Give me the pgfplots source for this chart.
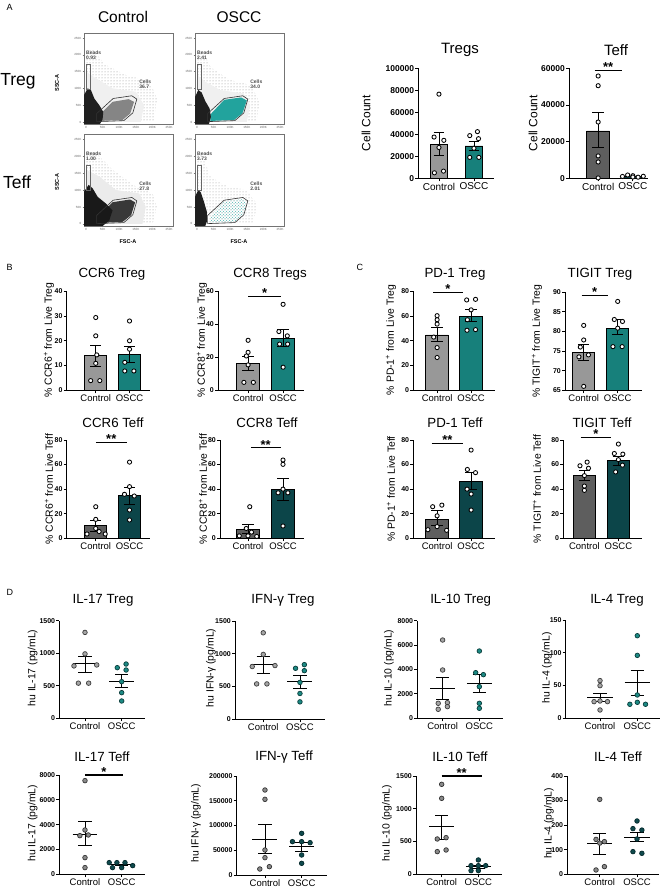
\documentclass[border=0pt]{standalone}
\usepackage{pgfplots}
\pgfplotsset{compat=1.18}
\usepackage{fontspec}
\setmainfont{Liberation Sans}
\usetikzlibrary{patterns}
\definecolor{ctrlTreg}{HTML}{989898}
\definecolor{osccTreg}{HTML}{17807B}
\definecolor{ctrlTeff}{HTML}{5E5E5E}
\definecolor{osccTeff}{HTML}{0C4549}
\definecolor{gateTeal}{HTML}{22A39D}
\definecolor{dCT}{HTML}{A5A5A5}
\definecolor{dCTe}{HTML}{3D3D3D}
\definecolor{dOT}{HTML}{1C8A84}
\definecolor{dOTe}{HTML}{0A3D3B}
\definecolor{dCF}{HTML}{8A8A8A}
\definecolor{dCFe}{HTML}{333333}
\definecolor{dOF}{HTML}{0F4A4D}
\definecolor{dOFe}{HTML}{04292B}
\newcommand{\fs}[1]{\fontsize{#1}{#1}\selectfont}
% bar: xl xm xr base val colour
\newcommand{\rbar}[6]{\addplot[fill=#6, draw=black, line width=0.9pt] coordinates {(#2,#4) (#3,#4) (#3,#5) (#1,#5) (#1,#4) (#2,#4)};}
% error bar: x lo hi capL capR
\newcommand{\eb}[5]{\addplot[black, line width=0.9pt] coordinates {(#1,#2) (#1,#3)};
 \addplot[black, line width=0.9pt] coordinates {(#4,#3) (#5,#3)};
 \addplot[black, line width=0.9pt] coordinates {(#4,#2) (#5,#2)};}
\newcommand{\mline}[3]{\addplot[black, line width=1pt] coordinates {(#1,#3) (#2,#3)};}
\newcommand{\wpts}[1]{\addplot[only marks, mark=*, mark size=2.1pt, mark options={fill=white, draw=black, line width=0.85pt}] coordinates {#1};}
\newcommand{\dpts}[3]{\addplot[only marks, mark=*, mark size=2.3pt, mark options={fill=#1, draw=#2, line width=0.7pt}] coordinates {#3};}
% significance: x1 x2 mid y text
\newcommand{\sig}[5]{\addplot[black, line width=1.1pt] coordinates {(#1,#4) (#2,#4)};
 \node[font=\bfseries\fs{13}, inner sep=0pt, anchor=south] at (axis cs:#3,#4) [yshift=-1.5pt] {#5};}
\pgfplotsset{
 prism/.style={
  scale only axis, clip=false, ymin=0, anchor=south west,
  axis x line*=bottom, axis y line*=left,
  axis line style={line width=0.9pt, black},
  tick style={line width=0.9pt, black},
  tick align=outside, major tick length=3pt,
  xtick={0,1}, xticklabels={Control,OSCC},
  xticklabel style={font=\fs{9.5}, inner sep=1.5pt},
  yticklabel style={font=\bfseries\fs{7}, inner sep=1pt},
  scaled y ticks=false,
  /pgf/number format/fixed, /pgf/number format/1000 sep={},
  /pgf/number format/assume math mode=true,
 },
 flow/.style={
  scale only axis, anchor=south west, width=89pt,
  xmin=-6, xmax=262, ymin=-6, ymax=265,
  axis line style={black!55, line width=0.6pt},
  tick style={black!55, line width=0.4pt},
  tick align=outside, major tick length=1.5pt, tick pos=left,
  xtick={0,50,100,150,200,250}, xticklabels={0,50K,100K,150K,200K,250K},
  ytick={0,50,100,150,200,250}, yticklabels={0,50K,100K,150K,200K,250K},
  tick label style={font=\fs{3}, black!60, inner sep=1pt},
 },
}
\begin{document}
\begin{tikzpicture}
\path[use as bounding box] (0,0) rectangle (663pt,891pt);

% ================= A: flow plots =================
\begin{axis}[flow, at={(84pt,767pt)}, height=91pt]
\addplot[pattern=dots, pattern color=black!45, draw=none] coordinates {(0,0)(0,210)(20,215)(60,170)(120,140)(190,120)(215,70)(205,0)(0,0)};
\addplot[fill=black!6, draw=none] coordinates {(0,0)(0,150)(30,130)(80,100)(150,90)(175,50)(165,0)(0,0)};
\addplot[fill=black!48, draw=none] coordinates {(40,3)(40,20)(80,60)(128,68)(145,60)(133,25)(110,6)(40,3)};
\addplot[fill=black!88, draw=none] coordinates {(-6,-6)(-6,80)(5,100)(15,95)(25,70)(40,50)(52,30)(50,8)(42,-6)(-6,-6)};
\addplot[draw=black!80, line width=0.6pt] coordinates {(32,1)(32,25)(82,70)(138,78)(153,68)(141,27)(114,4)(32,1)};
\addplot[draw=black!60, line width=0.5pt] coordinates {(1,98)(12,98)(12,172)(1,172)(1,98)};
\node[anchor=west, font=\bfseries\fs{5}, black!70, align=left, inner sep=0pt] at (axis cs:0,200) {Beads\\0.93};
\node[anchor=west, font=\bfseries\fs{5}, black!70, align=left, inner sep=0pt] at (axis cs:160,112) {Cells\\36.7};
\end{axis}
\begin{axis}[flow, at={(195pt,767pt)}, height=91pt]
\addplot[pattern=dots, pattern color=black!45, draw=none] coordinates {(0,0)(0,215)(15,210)(45,160)(100,125)(160,110)(190,60)(180,0)(0,0)};
\addplot[fill=black!6, draw=none] coordinates {(0,0)(0,140)(25,120)(70,95)(140,85)(160,50)(150,0)(0,0)};
\addplot[fill=gateTeal, draw=none] coordinates {(40,3)(40,22)(82,66)(133,73)(150,64)(137,26)(112,6)(40,3)};
\addplot[fill=black!88, draw=none] coordinates {(-6,-6)(-6,75)(4,95)(14,88)(25,62)(38,40)(42,15)(36,-6)(-6,-6)};
\addplot[draw=black!80, line width=0.6pt] coordinates {(32,1)(32,25)(82,70)(138,78)(153,68)(141,27)(114,4)(32,1)};
\addplot[draw=black!60, line width=0.5pt] coordinates {(1,98)(12,98)(12,172)(1,172)(1,98)};
\node[anchor=west, font=\bfseries\fs{5}, black!70, align=left, inner sep=0pt] at (axis cs:0,200) {Beads\\2.41};
\node[anchor=west, font=\bfseries\fs{5}, black!70, align=left, inner sep=0pt] at (axis cs:160,112) {Cells\\34.0};
\end{axis}
\begin{axis}[flow, at={(84pt,665pt)}, height=92pt]
\addplot[pattern=dots, pattern color=black!45, draw=none] coordinates {(0,0)(0,210)(30,210)(80,160)(150,110)(200,90)(215,50)(200,0)(0,0)};
\addplot[fill=black!8, draw=none] coordinates {(0,0)(0,160)(40,140)(90,100)(160,90)(180,50)(170,0)(0,0)};
\addplot[fill=black!78, draw=none] coordinates {(38,3)(38,22)(80,64)(132,72)(148,64)(136,26)(110,6)(38,3)};
\addplot[fill=black!90, draw=none] coordinates {(-6,-6)(-6,95)(8,115)(20,105)(35,80)(60,60)(80,40)(70,10)(50,-6)(-6,-6)};
\addplot[draw=black!80, line width=0.6pt] coordinates {(32,1)(32,25)(82,70)(138,78)(153,68)(141,27)(114,4)(32,1)};
\addplot[draw=black!60, line width=0.5pt] coordinates {(1,98)(12,98)(12,172)(1,172)(1,98)};
\node[anchor=west, font=\bfseries\fs{5}, black!70, align=left, inner sep=0pt] at (axis cs:0,200) {Beads\\1.00};
\node[anchor=west, font=\bfseries\fs{5}, black!70, align=left, inner sep=0pt] at (axis cs:160,112) {Cells\\27.8};
\end{axis}
\begin{axis}[flow, at={(195pt,665pt)}, height=92pt]
\addplot[pattern=dots, pattern color=black!40, draw=none] coordinates {(0,0)(0,210)(15,205)(40,140)(90,110)(150,100)(180,60)(170,0)(0,0)};
\addplot[pattern=crosshatch dots, pattern color=gateTeal!80, draw=none] coordinates {(40,3)(40,22)(82,66)(133,73)(150,64)(137,26)(112,6)(40,3)};
\addplot[fill=black!88, draw=none] coordinates {(-6,-6)(-6,80)(4,100)(12,92)(22,62)(30,35)(30,8)(25,-6)(-6,-6)};
\addplot[draw=black!80, line width=0.6pt] coordinates {(32,1)(32,25)(82,70)(138,78)(153,68)(141,27)(114,4)(32,1)};
\addplot[draw=black!60, line width=0.5pt] coordinates {(1,98)(12,98)(12,172)(1,172)(1,98)};
\node[anchor=west, font=\bfseries\fs{5}, black!70, align=left, inner sep=0pt] at (axis cs:0,200) {Beads\\3.73};
\node[anchor=west, font=\bfseries\fs{5}, black!70, align=left, inner sep=0pt] at (axis cs:160,112) {Cells\\2.01};
\end{axis}

% ================= A: cell counts =================
\begin{axis}[prism, at={(418.3pt,712.7pt)}, width=75.6pt, height=110pt,
  xmin=-0.59, xmax=1.57, ymax=100000, ytick={0,20000,40000,60000,80000,100000},
  yticklabel style={font=\bfseries\fs{8.5}}, xticklabel style={font=\fs{10}}]
\rbar{-0.25}{0}{0.25}{0}{30900}{ctrlTreg}
\rbar{0.75}{1}{1.25}{0}{29400}{osccTreg}
\eb{0}{20600}{41800}{-0.15}{0.15}
\eb{1}{25200}{33600}{0.85}{1.15}
\wpts{(0,76500)(-0.14,37500)(0.14,34500)(0,28000)(-0.13,5000)(0.13,6500)}
\wpts{(1.1,42400)(0.88,38800)(1.13,36000)(1,27300)(0.88,19000)(1.14,19000)}
\end{axis}
\begin{axis}[prism, at={(569pt,712.7pt)}, width=78.8pt, height=110pt,
  xmin=-0.84, xmax=1.43, ymax=60000, ytick={0,20000,40000,60000},
  yticklabel style={font=\bfseries\fs{8.5}}, xticklabel style={font=\fs{10}}]
\rbar{-0.33}{0}{0.33}{0}{25800}{ctrlTeff}
\rbar{0.67}{1}{1.33}{0}{1100}{osccTeff}
\eb{0}{16900}{35800}{-0.17}{0.17}
\wpts{(0,55800)(0,50500)(0,30700)(0,12200)(0,8900)(0,200)}
\wpts{(0.7,1000)(0.85,1800)(1,1400)(1.15,600)(1.3,1100)(1.0,700)}
\sig{-0.1}{0.68}{0.29}{58700}{**}
\end{axis}

% ================= B =================
\begin{axis}[prism, at={(66.7pt,500.7pt)}, width=83.1pt, height=99pt,
  xmin=-0.86, xmax=1.6, ymax=40, ytick={0,10,20,30,40}]
\rbar{-0.325}{0}{0.325}{0}{13.9}{ctrlTreg}
\rbar{0.675}{1}{1.325}{0}{14.5}{osccTreg}
\eb{0}{9.7}{18.1}{-0.17}{0.17}
\eb{1}{11.2}{17.9}{0.83}{1.17}
\wpts{(0,29.4)(0,22)(0.03,14.3)(0,10.9)(-0.15,3.9)(0.12,3.9)}
\wpts{(1,28)(1,20)(1,16.6)(0.86,11.3)(0.86,7.8)(1.13,7.8)}
\end{axis}
\begin{axis}[prism, at={(218pt,500.7pt)}, width=86.1pt, height=99pt,
  xmin=-0.86, xmax=1.6, ymax=60, ytick={0,20,40,60}]
\rbar{-0.325}{0}{0.325}{0}{16}{ctrlTreg}
\rbar{0.675}{1}{1.325}{0}{31.5}{osccTreg}
\eb{0}{12.3}{20.4}{-0.17}{0.17}
\eb{1}{26.5}{37}{0.83}{1.17}
\wpts{(0,30.3)(0,23)(-0.05,20.8)(0,15.4)(-0.12,4.8)(0.15,4.8)}
\wpts{(1,52.1)(0.88,35.6)(1.12,33)(1.13,28)(0.9,28)(1,14)}
\sig{0}{0.95}{0.475}{57}{*}
\end{axis}
\begin{axis}[prism, at={(66.7pt,352.7pt)}, width=83.1pt, height=98.3pt,
  xmin=-0.86, xmax=1.6, ymax=80, ytick={0,20,40,60,80}]
\rbar{-0.325}{0}{0.325}{0}{10.3}{ctrlTeff}
\rbar{0.675}{1}{1.325}{0}{34.7}{osccTeff}
\eb{0}{5.4}{14.9}{-0.17}{0.17}
\eb{1}{27.6}{41.5}{0.83}{1.17}
\wpts{(0,25.7)(0,15.4)(0,8)(0.1,5.5)(-0.26,3.5)(0.28,3.5)}
\wpts{(1,62)(1,42)(0.85,35.8)(1.14,34.4)(1,23)(1,14.9)}
\sig{0}{0.92}{0.46}{77.8}{**}
\end{axis}
\begin{axis}[prism, at={(220pt,352.7pt)}, width=84pt, height=98.3pt,
  xmin=-0.8, xmax=1.6, ymax=80, ytick={0,20,40,60,80}]
\rbar{-0.325}{0}{0.325}{0}{7.3}{ctrlTeff}
\rbar{0.675}{1}{1.325}{0}{40.1}{osccTeff}
\eb{0}{4}{11.4}{-0.17}{0.17}
\eb{1}{31.2}{48.8}{0.83}{1.17}
\wpts{(0.05,25.7)(-0.05,8)(0.1,5)(-0.25,2)(0.25,1.5)(0,2)}
\wpts{(1,63.7)(1,60.2)(1,40)(0.86,37)(1.14,37)(1,10)}
\sig{0.08}{0.93}{0.505}{73.7}{**}
\end{axis}

% ================= C =================
\begin{axis}[prism, at={(413.3pt,500.7pt)}, width=81.6pt, height=99pt,
  xmin=-0.7, xmax=1.7, ymax=80, ytick={0,20,40,60,80}]
\rbar{-0.33}{0}{0.33}{0}{44.7}{ctrlTreg}
\rbar{0.67}{1}{1.33}{0}{60}{osccTreg}
\eb{0}{39.3}{50.6}{-0.17}{0.17}
\eb{1}{55.5}{65.5}{0.83}{1.17}
\wpts{(0,60.3)(0,57)(0,53.5)(-0.1,43)(0,34.5)(0,26.5)}
\wpts{(0.87,73)(1.13,73.5)(1,65)(0.89,57)(1.13,49)(0.88,48.5)}
\sig{-0.12}{0.76}{0.32}{79.2}{*}
\end{axis}
\begin{axis}[prism, at={(565pt,500.7pt)}, width=76.5pt, height=98.3pt,
  xmin=-0.55, xmax=1.7, ymin=65, ymax=90, ytick={65,70,75,80,85,90}]
\rbar{-0.33}{0}{0.33}{65}{74.6}{ctrlTreg}
\rbar{0.67}{1}{1.33}{65}{80.8}{osccTreg}
\eb{0}{72.5}{76.7}{-0.17}{0.17}
\eb{1}{79.1}{82.9}{0.83}{1.17}
\wpts{(0,81.5)(0,77.8)(-0.1,76)(0.14,74)(-0.14,73.5)(0,66)}
\wpts{(1,87.6)(0.9,83)(1.14,82.5)(1,80.8)(0.86,76.1)(1.13,76.1)}
\sig{-0.06}{0.70}{0.32}{89.2}{*}
\end{axis}
\begin{axis}[prism, at={(413.3pt,352.7pt)}, width=81.6pt, height=98.3pt,
  xmin=-0.7, xmax=1.7, ymax=80, ytick={0,20,40,60,80}]
\rbar{-0.33}{0}{0.33}{0}{15.7}{ctrlTeff}
\rbar{0.67}{1}{1.33}{0}{46.6}{osccTeff}
\eb{0}{10.8}{23}{-0.17}{0.17}
\eb{1}{39.8}{53.4}{0.83}{1.17}
\wpts{(0.14,27)(-0.13,25.7)(0,18.3)(0,9.5)(-0.27,7)(0.28,6.5)}
\wpts{(1,71.8)(0.89,56)(1.13,53.4)(0.88,40)(1,36)(1,23)}
\sig{-0.16}{0.77}{0.305}{77.2}{**}
\end{axis}
\begin{axis}[prism, at={(563.3pt,352.7pt)}, width=78.9pt, height=98.3pt,
  xmin=-0.62, xmax=1.7, ymax=80, ytick={0,20,40,60,80}]
\rbar{-0.33}{0}{0.33}{0}{51.5}{ctrlTeff}
\rbar{0.67}{1}{1.33}{0}{63.7}{osccTeff}
\eb{0}{47.4}{55}{-0.17}{0.17}
\eb{1}{59.6}{67}{0.83}{1.17}
\wpts{(0.08,62)(-0.13,59)(0.12,57)(0,51)(0,42.5)(0,39)}
\wpts{(1,76.7)(0.88,69)(1.13,68.5)(1,64)(1.12,59.5)(0.92,54)}
\sig{-0.11}{0.79}{0.34}{82.1}{*}
\end{axis}

% ================= D row 1 =================
\begin{axis}[prism, at={(59.3pt,172.7pt)}, width=85.5pt, height=97.6pt,
  xmin=-0.7, xmax=1.63, ymax=1500, ytick={0,500,1000,1500}]
\eb{0}{706}{957}{-0.18}{0.18}\mline{-0.34}{0.34}{835}
\eb{1}{471}{676}{0.82}{1.18}\mline{0.66}{1.34}{573}
\dpts{dCT}{dCTe}{(0,1320)(0,990)(0.32,820)(-0.3,805)(-0.18,540)(0.1,540)}
\dpts{dOT}{dOTe}{(0.88,778)(1.12,834)(1.12,742)(1,563)(1,394)(1,266)}
\end{axis}
\begin{axis}[prism, at={(235pt,171.7pt)}, width=89.9pt, height=98.3pt,
  xmin=-0.77, xmax=1.68, ymax=1500, ytick={0,500,1000,1500}]
\eb{0}{706}{957}{-0.18}{0.18}\mline{-0.34}{0.34}{835}
\eb{1}{471}{676}{0.82}{1.18}\mline{0.66}{1.34}{573}
\dpts{dCT}{dCTe}{(0,1320)(0,990)(0.32,820)(-0.3,805)(-0.18,540)(0.1,540)}
\dpts{dOT}{dOTe}{(0.88,778)(1.12,834)(1.12,742)(1,563)(1,394)(1,266)}
\end{axis}
\begin{axis}[prism, at={(417.3pt,172.7pt)}, width=85.9pt, height=97.6pt,
  xmin=-0.69, xmax=1.65, ymax=8000, ytick={0,2000,4000,6000,8000}]
\eb{0}{1556}{3358}{-0.18}{0.18}\mline{-0.34}{0.34}{2457}
\eb{1}{2150}{3590}{0.82}{1.18}\mline{0.66}{1.34}{2880}
\dpts{dCT}{dCTe}{(0,6416)(0,3959)(-0.12,1229)(-0.12,737)(0.13,1283)(0.13,956)}
\dpts{dOT}{dOTe}{(1,5515)(0.9,3741)(1.11,3577)(1,2594)(1,1229)(1,819)}
\end{axis}
\begin{axis}[prism, at={(565.7pt,172.7pt)}, width=94pt, height=98.3pt,
  xmin=-0.92, xmax=1.6, ymax=150, ytick={0,50,100,150}]
\eb{0}{25.4}{38.1}{-0.18}{0.18}\mline{-0.34}{0.34}{32}
\eb{1}{35.6}{72.7}{0.82}{1.18}\mline{0.66}{1.34}{54.4}
\dpts{dCT}{dCTe}{(0,57.5)(0,49.8)(-0.16,25.4)(0,26.4)(0.2,25.4)(0,12.7)}
\dpts{dOT}{dOTe}{(1,126)(1,96)(1,35.6)(0.8,21.4)(1,24.4)(1.22,21.4)}
\end{axis}

% ================= D row 2 =================
\begin{axis}[prism, at={(59.3pt,16.7pt)}, width=85.5pt, height=99.3pt,
  xmin=-0.7, xmax=1.63, ymax=8000, ytick={0,2000,4000,6000,8000}]
\eb{0}{2336}{4242}{-0.18}{0.18}\mline{-0.34}{0.34}{3221}
\eb{1}{680}{830}{0.82}{1.18}\mline{0.66}{1.34}{752}
\dpts{dCF}{dCFe}{(0,7544)(0,3570)(-0.14,3114)(0.09,3168)(0,1342)(0,537)}
\dpts{dOF}{dOFe}{(0.66,940)(0.87,940)(1.09,940)(0.75,537)(1,537)(1.3,698)}
\sig{0}{1.03}{0.515}{8000}{*}
\end{axis}
\begin{axis}[prism, at={(236.7pt,16pt)}, width=89.9pt, height=99pt,
  xmin=-0.77, xmax=1.68, ymax=200000, ytick={0,50000,100000,150000,200000}]
\eb{0}{43771}{102357}{-0.18}{0.18}\mline{-0.34}{0.34}{72727}
\eb{1}{48000}{65500}{0.82}{1.18}\mline{0.66}{1.34}{56800}
\dpts{dCF}{dCFe}{(0,171717)(0,152862)(0,50505)(0,35016)(0.12,16835)(-0.14,12121)}
\dpts{dOF}{dOFe}{(1,84175)(0.75,67340)(1,67340)(1.23,65320)(1,40404)(1,23569)}
\end{axis}
\begin{axis}[prism, at={(416pt,16.7pt)}, width=86.2pt, height=98.3pt,
  xmin=-0.7, xmax=1.65, ymax=1500, ytick={0,500,1000,1500}]
\eb{0}{539}{905}{-0.18}{0.18}\mline{-0.34}{0.34}{722}
\eb{1}{92}{142}{0.82}{1.18}\mline{0.66}{1.34}{117}
\dpts{dCF}{dCFe}{(0,1373)(0,1159)(-0.12,539)(0.12,559)(-0.12,346)(0.12,371)}
\dpts{dOF}{dOFe}{(1,219)(0.8,132)(1,132)(1.2,132)(0.8,56)(1,56)}
\sig{0}{1.09}{0.545}{1500}{**}
\end{axis}
\begin{axis}[prism, at={(567.3pt,16.7pt)}, width=92.1pt, height=98.3pt,
  xmin=-0.87, xmax=1.6, ymax=400, ytick={0,100,200,300,400}]
\eb{0}{81.4}{166.8}{-0.18}{0.18}\mline{-0.34}{0.34}{126}
\eb{1}{133}{170}{0.82}{1.18}\mline{0.66}{1.34}{149}
\dpts{dCF}{dCFe}{(0,305)(-0.1,142)(0.125,133)(0,127)(-0.1,17.6)(0.125,31.2)}
\dpts{dOF}{dOFe}{(1,217)(0.89,185.8)(1.13,180)(1,143.7)(0.89,92.2)(1.13,85.4)}
\end{axis}

% ================= text =================
\node[anchor=west, font=\fs{9}] at (3pt,884pt) {A};
\node[anchor=west, font=\fs{9}] at (3pt,624pt) {B};
\node[anchor=west, font=\fs{9}] at (353pt,624pt) {C};
\node[anchor=west, font=\fs{9}] at (3pt,299pt) {D};

\node[font=\fs{15.5}] at (123pt,874pt) {Control};
\node[font=\fs{15.5}] at (239pt,874pt) {OSCC};
\node[font=\fs{17.5}] at (18pt,810pt) {Treg};
\node[font=\fs{17.5}] at (17pt,709pt) {Teff};
\node[font=\bfseries\fs{5.5}, rotate=90] at (57pt,808pt) {SSC-A};
\node[font=\bfseries\fs{5.5}, rotate=90] at (57pt,709pt) {SSC-A};
\node[font=\bfseries\fs{5.5}] at (128pt,649pt) {FSC-A};
\node[font=\bfseries\fs{5.5}] at (239pt,649pt) {FSC-A};

\node[font=\fs{15}] at (460pt,841pt) {Tregs};
\node[font=\fs{15}] at (616pt,841pt) {Teff};
\node[font=\fs{12}, rotate=90] at (366pt,768pt) {Cell Count};
\node[font=\fs{12}, rotate=90] at (533pt,768pt) {Cell Count};

\node[font=\fs{13.3}] at (112pt,617pt) {CCR6 Treg};
\node[font=\fs{13.3}] at (270pt,617pt) {CCR8 Tregs};
\node[font=\fs{13.3}] at (455pt,617pt) {PD-1 Treg};
\node[font=\fs{13.3}] at (600pt,617pt) {TIGIT Treg};
\node[font=\fs{13.3}] at (113pt,468.3pt) {CCR6 Teff};
\node[font=\fs{13.3}] at (267pt,468.3pt) {CCR8 Teff};
\node[font=\fs{13.3}] at (455pt,468.3pt) {PD-1 Teff};
\node[font=\fs{13.3}] at (602pt,468.3pt) {TIGIT Teff};

\node[font=\fs{10.4}, rotate=90] at (49pt,551pt) {\% CCR6\textsuperscript{+} from Live Treg};
\node[font=\fs{10.4}, rotate=90] at (202pt,551pt) {\% CCR8\textsuperscript{+} from Live Treg};
\node[font=\fs{10.4}, rotate=90] at (391pt,551pt) {\% PD-1\textsuperscript{+} from Live Treg};
\node[font=\fs{10.4}, rotate=90] at (537pt,550pt) {\% TIGIT\textsuperscript{+} from Live Treg};
\node[font=\fs{10.4}, rotate=90] at (49pt,402pt) {\% CCR6\textsuperscript{+} from Live Teff};
\node[font=\fs{10.4}, rotate=90] at (203pt,402pt) {\% CCR8\textsuperscript{+} from Live Teff};
\node[font=\fs{10.4}, rotate=90] at (391pt,402pt) {\% PD-1\textsuperscript{+} from Live Teff};
\node[font=\fs{10.4}, rotate=90] at (537pt,402pt) {\% TIGIT\textsuperscript{+} from Live Teff};

\node[font=\fs{13.3}] at (103pt,290.3pt) {IL-17 Treg};
\node[font=\fs{13.3}] at (283pt,290.3pt) {IFN-γ Treg};
\node[font=\fs{13.3}] at (460.7pt,290.3pt) {IL-10 Treg};
\node[font=\fs{13.3}] at (617pt,290.3pt) {IL-4 Treg};
\node[font=\fs{13.3}] at (102pt,134.3pt) {IL-17 Teff};
\node[font=\fs{13.3}] at (284pt,134.3pt) {IFN-γ Teff};
\node[font=\fs{13.3}] at (460pt,134.3pt) {IL-10 Teff};
\node[font=\fs{13.3}] at (618pt,134.3pt) {IL-4 Teff};

\node[font=\fs{10.4}, rotate=90] at (32.7pt,223pt) {hu IL-17 (pg/mL)};
\node[font=\fs{10.4}, rotate=90] at (211pt,223pt) {hu IFN-γ (pg/mL)};
\node[font=\fs{10.4}, rotate=90] at (389pt,223pt) {hu IL-10 (pg/mL)};
\node[font=\fs{10.4}, rotate=90] at (547pt,223pt) {hu IL-4 (pg/mL)};
\node[font=\fs{10.4}, rotate=90] at (32.7pt,67.7pt) {hu IL-17 (pg/mL)};
\node[font=\fs{10.4}, rotate=90] at (196pt,67.7pt) {hu IFN-γ (pg/mL)};
\node[font=\fs{10.4}, rotate=90] at (387pt,67.7pt) {hu IL-10 (pg/mL)};
\node[font=\fs{10.4}, rotate=90] at (549pt,67.7pt) {hu IL-4 (pg/mL)};
\end{tikzpicture}
\end{document}
